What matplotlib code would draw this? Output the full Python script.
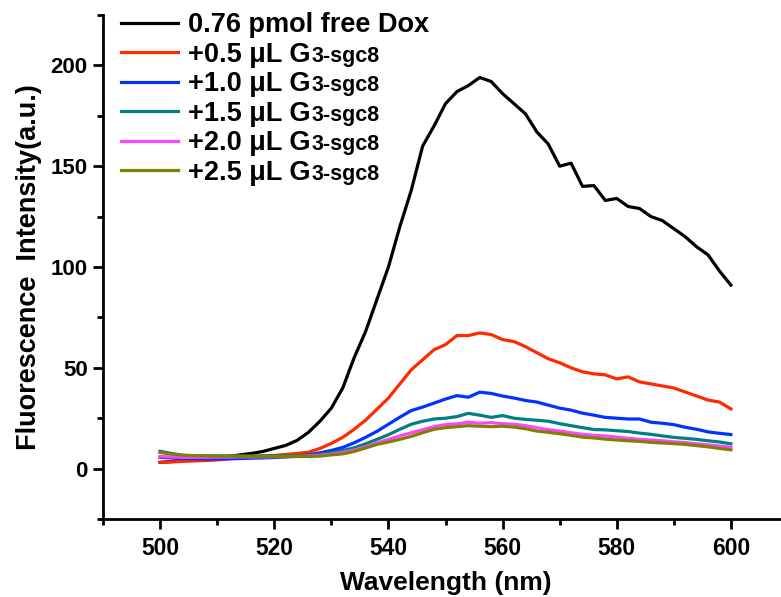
import numpy as np
import matplotlib.pyplot as plt
from matplotlib.ticker import MultipleLocator

plt.rcParams['font.family'] = ['Liberation Sans', 'DejaVu Sans']
plt.rcParams['font.weight'] = 'bold'

wavelength = np.arange(500, 601, 2)

free_dox = [3.1, 3.5, 4.0, 4.5, 5.0, 5.5, 6.0, 6.8, 7.5, 8.5, 10.0, 11.5, 14.0, 18.0, 23.5,
            30, 40, 55, 68, 84, 100, 120, 138, 160, 170, 181, 187, 190, 194, 192, 186,
            181, 176, 167, 161, 150, 151.5, 140, 140.4, 133, 134, 130, 129, 125, 123,
            119, 115, 110, 106, 98, 91]
g05 = [3.1, 3.3, 3.6, 3.8, 4.0, 4.3, 4.8, 5.2, 5.5, 6.2, 6.5, 7.0, 7.5, 8.1, 10, 12.5,
       15.5, 19.5, 24, 29.5, 35, 42, 49, 54, 59, 61.5, 66, 66, 67.3, 66.5, 64, 63, 60.5,
       57.5, 54.5, 52.5, 50, 48, 47, 46.5, 44.5, 45.5, 43, 42, 41, 40, 38, 36, 34, 33, 29.6]
g10 = [5.6, 5.3, 5.0, 4.9, 4.8, 4.8, 4.9, 5.0, 5.2, 5.3, 5.5, 5.8, 6.2, 6.8, 7.8, 9.0,
       10.5, 12.8, 15.5, 18.5, 22, 25.5, 28.8, 30.5, 32.5, 34.5, 36.2, 35.4, 37.9, 37.3,
       36, 35, 33.8, 33, 31.5, 30, 29, 27.5, 26.5, 25.4, 25, 24.6, 24.6, 23, 22.5, 21.8,
       20.5, 19.5, 18.2, 17.5, 16.9]
g15 = [8.6, 7.5, 6.6, 6.4, 6.3, 6.3, 6.3, 6.3, 6.3, 6.3, 6.3, 6.4, 6.4, 6.5, 7.0, 7.8,
       9.0, 10.3, 12.3, 14.5, 16.8, 19.5, 22, 23.5, 24.6, 25, 25.8, 27.4, 26.5, 25.4, 26.3,
       25, 24.4, 24, 23.5, 22.3, 21.3, 20.3, 19.4, 19.2, 18.8, 18.4, 17.6, 17.0, 16.2,
       15.5, 15.0, 14.5, 13.8, 13.2, 12.3]
g20 = [6.0, 5.8, 5.6, 5.6, 5.6, 5.7, 5.7, 5.8, 5.8, 5.8, 5.9, 5.9, 6.0, 6.2, 6.6, 7.2,
       8.0, 9.2, 10.8, 12.8, 14.5, 16.2, 17.8, 19.3, 20.8, 21.8, 22.2, 23, 22.5, 22.8,
       22.3, 22, 21.3, 20.3, 19.3, 18.6, 17.8, 17.0, 16.5, 16.2, 15.6, 15.0, 14.5, 14.2,
       13.8, 13.3, 12.9, 12.3, 11.8, 11.2, 10.6]
g25 = [8.0, 7.2, 6.6, 6.4, 6.3, 6.2, 6.2, 6.1, 6.0, 6.0, 6.0, 6.0, 6.0, 6.0, 6.2, 6.8,
       7.3, 8.5, 10.2, 12.0, 13.2, 14.5, 16.0, 17.8, 19.5, 20.3, 20.8, 21.3, 21, 20.8,
       21.0, 20.6, 19.8, 18.6, 18.0, 17.3, 16.5, 15.6, 15.2, 14.6, 14.2, 13.8, 13.5, 13.0,
       12.7, 12.4, 12.0, 11.4, 10.8, 10.0, 9.3]

labels = ['0.76 pmol free Dox', '+0.5 μL G', '+1.0 μL G', '+1.5 μL G', '+2.0 μL G', '+2.5 μL G']
suffixes = ['', '3-sgc8', '3-sgc8', '3-sgc8', '3-sgc8', '3-sgc8']
colors = ['#000000', '#ff2a00', '#0033ff', '#008080', '#ff44ff', '#808000']
series = [free_dox, g05, g10, g15, g20, g25]

fig = plt.figure(figsize=(7.81, 5.97), dpi=100)
ax = fig.add_axes([103 / 781, 78 / 597, 685 / 781, 504 / 597])

for y, c, lab in zip(series, colors, labels):
    ax.plot(wavelength, y, color=c, lw=2.3, label=lab)

ax.set_xlim(490, 610)
ax.set_ylim(-25, 225)
ax.xaxis.set_minor_locator(MultipleLocator(10))
ax.yaxis.set_major_locator(MultipleLocator(50))
ax.yaxis.set_minor_locator(MultipleLocator(25))
ax.set_xticks(np.arange(500, 601, 20))

for s in ['top', 'right']:
    ax.spines[s].set_visible(False)
for s in ['left', 'bottom']:
    ax.spines[s].set_linewidth(2)
ax.tick_params(which='major', length=7, width=2, pad=4)
ax.tick_params(which='minor', length=4, width=2)
ax.tick_params(axis='x', labelsize=16.5, pad=6)
ax.tick_params(axis='y', labelsize=16)

ax.set_xlabel('Wavelength (nm)', fontsize=19, fontweight='bold', labelpad=8)
ax.set_ylabel('Fluorescence  Intensity(a.u.)', fontsize=19.5, fontweight='bold', labelpad=6)

leg = ax.legend(loc='upper left', bbox_to_anchor=(0.01, 1.027), frameon=False, fontsize=19.5,
                handlelength=2.1, handletextpad=0.4, labelspacing=0.13, borderaxespad=0)

# smaller "3-sgc8" right after the G, on the same baseline
fig.canvas.draw()
W, H = fig.bbox.width, fig.bbox.height
for t, suf in zip(leg.get_texts(), suffixes):
    if not suf:
        continue
    bb = t.get_window_extent()
    x0, y0 = t.get_transform().transform(t.get_unitless_position())
    fig.text(bb.x1 / W + 0.001, y0 / H, suf, fontsize=15.5, fontweight='bold',
             ha='left', va='baseline')

fig.savefig('out.png', dpi=100)
